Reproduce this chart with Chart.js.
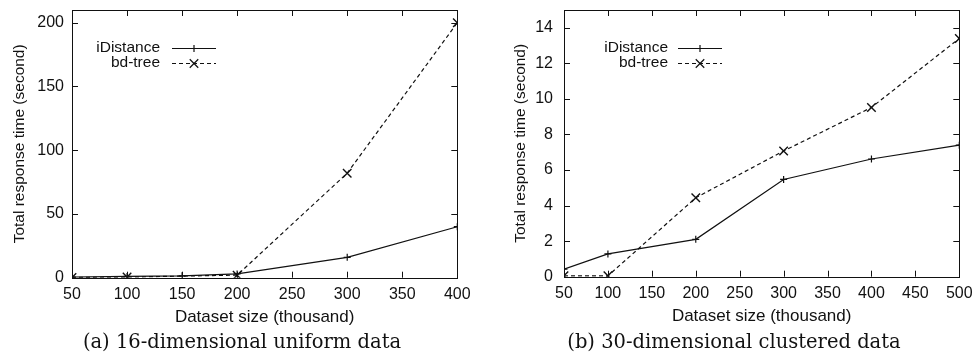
<!DOCTYPE html>
<html>
<head>
<meta charset="utf-8">
<script src="https://cdn.jsdelivr.net/npm/chart.js@4/dist/chart.umd.min.js"></script>
<style>
body { margin: 0; background: #fff; }
#wrap { position: relative; width: 972px; height: 364px; }
.panel { position: absolute; top: 0; width: 486px; height: 364px; }
.cap { position: absolute; top: 330px; font: 19.5px "DejaVu Serif", serif; line-height: 24px; color: #111; white-space: nowrap; transform: translateX(-50%); }
</style>
</head>
<body>
<div id="wrap">
  <div class="panel" style="left:0"><canvas id="chartA" width="486" height="364"></canvas></div>
  <div class="panel" style="left:486px"><canvas id="chartB" width="486" height="364"></canvas></div>
  <div class="cap" style="left:242px">(a) 16-dimensional uniform data</div>
  <div class="cap" style="left:734px">(b) 30-dimensional clustered data</div>
</div>
<script>
// (a) 16-dimensional uniform data
const sizesA_idist = [50, 100, 150, 200, 300, 400];
const idistA = [0.5, 1, 1.5, 3, 16, 40];
const sizesA_bd = [50, 100, 200, 300, 400];
const bdA = [0.2, 0.5, 2, 82, 200];
const xTicksA = [50, 100, 150, 200, 250, 300, 350, 400];

// (b) 30-dimensional clustered data
const sizesB = [50, 100, 200, 300, 400, 500];
const idistB = [0.42, 1.28, 2.1, 5.47, 6.62, 7.4];
const bdB = [0.05, 0.05, 4.44, 7.07, 9.52, 13.4];
const xTicksB = [50, 100, 150, 200, 250, 300, 350, 400, 450, 500];

const INK = '#111';
const FAMILY = '"Liberation Sans", Arial, sans-serif';
const TICK_FONT = { family: FAMILY, size: 16 };
const XTITLE_FONT = { family: FAMILY, size: 17 };
const YTITLE_FONT = { family: FAMILY, size: 15.5 };
const KEY_SIZE = 15.5;

function pts(xs, ys) {
    return xs.map((x, i) => ({ x: x, y: ys[i] }));
}

// gnuplot-like frame: full box plus inward ticks on all four sides, and the key
const framePlugin = {
    id: 'frame',
    afterDraw(chart, args, opts) {
        const ctx = chart.ctx;
        const a = chart.chartArea;
        const xs = chart.scales.x, ys = chart.scales.y;
        const t = 6;
        ctx.save();
        ctx.strokeStyle = INK;
        ctx.lineWidth = 1;
        ctx.strokeRect(Math.round(a.left) + 0.5, Math.round(a.top) + 0.5,
            Math.round(a.right - a.left), Math.round(a.bottom - a.top));
        ctx.beginPath();
        xs.ticks.forEach(tk => {
            const px = Math.round(xs.getPixelForValue(tk.value)) + 0.5;
            ctx.moveTo(px, a.bottom); ctx.lineTo(px, a.bottom - t);
            ctx.moveTo(px, a.top); ctx.lineTo(px, a.top + t);
        });
        ys.ticks.forEach(tk => {
            const py = Math.round(ys.getPixelForValue(tk.value)) + 0.5;
            ctx.moveTo(a.left, py); ctx.lineTo(a.left + t, py);
            ctx.moveTo(a.right, py); ctx.lineTo(a.right - t, py);
        });
        ctx.stroke();

        // key
        ctx.font = KEY_SIZE + 'px ' + FAMILY;
        ctx.fillStyle = INK;
        ctx.textAlign = 'right';
        ctx.textBaseline = 'middle';
        chart.data.datasets.forEach((ds, i) => {
            const y = opts.y + i * 15;
            ctx.fillText(ds.label, opts.textRight, y);
            ctx.beginPath();
            ctx.setLineDash(ds.borderDash || []);
            ctx.lineWidth = ds.borderWidth;
            ctx.moveTo(opts.lineLeft, y + 0.5);
            ctx.lineTo(opts.lineLeft + 44, y + 0.5);
            ctx.stroke();
            ctx.setLineDash([]);
            Chart.helpers.drawPoint(ctx, {
                pointStyle: ds.pointStyle, radius: ds.pointRadius,
                borderWidth: ds.pointBorderWidth, rotation: 0
            }, opts.lineLeft + 22, y + 0.5);
        });
        ctx.restore();
    }
};

function makeChart(id, datasets, xMin, xMax, xTicks, yMax, yStep, pad, yPad, titlePad, key) {
    return new Chart(document.getElementById(id).getContext('2d'), {
        type: 'line',
        data: { datasets: datasets },
        plugins: [framePlugin],
        options: {
            responsive: false,
            animation: false,
            layout: { padding: { left: 0, right: pad.right, top: 10, bottom: pad.bottom } },
            plugins: {
                legend: { display: false },
                tooltip: { enabled: false },
                frame: key
            },
            scales: {
                x: {
                    type: 'linear',
                    min: xMin, max: xMax,
                    afterBuildTicks: s => { s.ticks = xTicks.map(v => ({ value: v })); },
                    afterFit: s => { s.height = 50; s.paddingLeft = 0; s.paddingRight = 0; },
                    grid: { display: false, drawTicks: false },
                    border: { display: false },
                    ticks: { color: INK, font: TICK_FONT, padding: 7, maxRotation: 0 },
                    title: { display: true, text: 'Dataset size (thousand)', color: INK, font: XTITLE_FONT, padding: { top: 0, bottom: 0 } }
                },
                y: {
                    min: 0, max: yMax,
                    afterFit: s => { s.width = pad.left; s.paddingTop = 0; s.paddingBottom = 0; },
                    grid: { display: false, drawTicks: false },
                    border: { display: false },
                    ticks: { color: INK, font: TICK_FONT, padding: yPad, stepSize: yStep, includeBounds: false },
                    title: { display: true, text: 'Total response time (second)', color: INK, font: YTITLE_FONT, padding: { top: titlePad, bottom: 0 } }
                }
            }
        }
    });
}

function series(xs, idist, xsBd, bd) {
    return [
        {
            label: 'iDistance', data: pts(xs, idist),
            borderColor: INK, borderWidth: 1.2, pointStyle: 'cross', pointRadius: 3.5,
            pointBorderWidth: 1.2, pointBorderColor: INK, tension: 0, fill: false
        },
        {
            label: 'bd-tree', data: pts(xsBd, bd),
            borderColor: INK, borderWidth: 1.2, borderDash: [4, 3], pointStyle: 'crossRot', pointRadius: 6,
            pointBorderWidth: 1.4, pointBorderColor: INK, tension: 0, fill: false
        }
    ];
}

makeChart('chartA', series(sizesA_idist, idistA, sizesA_bd, bdA), 50, 400, xTicksA, 210, 50,
    { left: 72, right: 28.7, bottom: 36.3 }, 8, 10, { y: 48, textRight: 160, lineLeft: 172 });
makeChart('chartB', series(sizesB, idistB, sizesB, bdB), 50, 500, xTicksB, 15, 2,
    { left: 78, right: 12.7, bottom: 37.3 }, 11, 25, { y: 48, textRight: 182, lineLeft: 192 });
</script>
</body>
</html>
